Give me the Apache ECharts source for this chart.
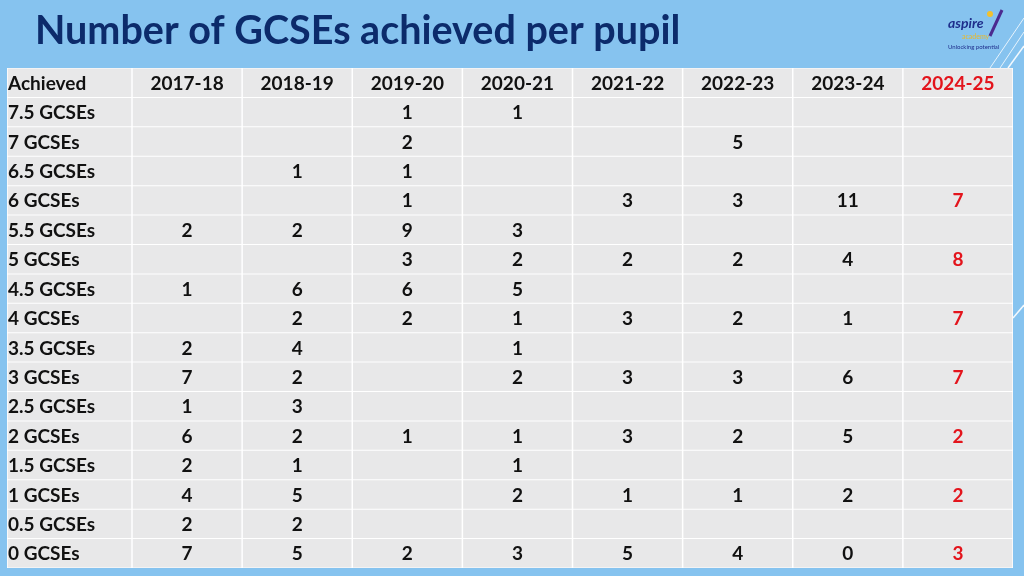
<!DOCTYPE html>
<html>
<head>
<meta charset="utf-8">
<script src="https://cdn.jsdelivr.net/npm/echarts@6/dist/echarts.min.js"></script>
<style>
  html, body { margin: 0; padding: 0; background: #86c3ef; }
  #chart { width: 1024px; height: 576px; }
</style>
</head>
<body>
<div id="chart"></div>
<script>
// 表格数据：行标签、学年、各学年人数（null 为空格）
const rowLabels = ['Achieved', '7.5 GCSEs', '7 GCSEs', '6.5 GCSEs', '6 GCSEs', '5.5 GCSEs', '5 GCSEs',
  '4.5 GCSEs', '4 GCSEs', '3.5 GCSEs', '3 GCSEs', '2.5 GCSEs', '2 GCSEs', '1.5 GCSEs', '1 GCSEs',
  '0.5 GCSEs', '0 GCSEs']
const years = ['2017-18', '2018-19', '2019-20', '2020-21', '2021-22', '2022-23', '2023-24', '2024-25']
const y2017 = [null, null, null, null, 2, null, 1, null, 2, 7, 1, 6, 2, 4, 2, 7]
const y2018 = [null, null, 1, null, 2, null, 6, 2, 4, 2, 3, 2, 1, 5, 2, 5]
const y2019 = [1, 2, 1, 1, 9, 3, 6, 2, null, null, null, 1, null, null, null, 2]
const y2020 = [1, null, null, null, 3, 2, 5, 1, 1, 2, null, 1, 1, 2, null, 3]
const y2021 = [null, null, null, 3, null, 2, null, 3, null, 3, null, 3, null, 1, null, 5]
const y2022 = [null, 5, null, 3, null, 2, null, 2, null, 3, null, 2, null, 1, null, 4]
const y2023 = [null, null, null, 11, null, 4, null, 1, null, 6, null, 5, null, 2, null, 0]
const y2024 = [null, null, null, 7, null, 8, null, 7, null, 7, null, 2, null, 2, null, 3]
const columns = [y2017, y2018, y2019, y2020, y2021, y2022, y2023, y2024]

const FONT = 'Lato, "Open Sans", sans-serif'
const CELL = '#e8e8e9'
const RED = '#e3141c'
const highlightCol = years.length - 1

// 数据区单元格：[列, 行, 文本]
const cellData = []
years.forEach((yr, ci) => {
  cellData.push([ci, 0, yr])
  columns[ci].forEach((v, ri) => {
    cellData.push([ci, ri + 1, v === null ? '' : String(v)])
  })
})
// 标签列
const labelData = rowLabels.map((t, ri) => [0, ri, t])

function cellItem(align) {
  return function (params, api) {
    const c = api.coord([api.value(0), api.value(1)])
    const s = api.size([1, 1])
    const x0 = c[0] - s[0] / 2
    const y0 = c[1] - s[1] / 2
    const txt = api.value(2)
    const red = align === 'center' && api.value(0) === highlightCol
    return {
      type: 'group',
      children: [
        {
          type: 'rect',
          shape: { x: x0 + 0.75, y: y0 + 0.5, width: s[0] - 1.5, height: s[1] - 1 },
          style: { fill: CELL }
        },
        {
          type: 'text',
          style: {
            text: txt,
            x: align === 'center' ? c[0] : x0 + 1,
            y: c[1] + 1,
            align: align,
            verticalAlign: 'middle',
            fill: red ? RED : '#111',
            fontSize: 19,
            fontWeight: 'bold',
            fontFamily: FONT
          }
        }
      ]
    }
  }
}

const chart = echarts.init(document.getElementById('chart'))
const yAxisBase = {
  type: 'category',
  data: rowLabels,
  inverse: true,
  show: false
}

chart.setOption({
  backgroundColor: '#86c3ef',
  animation: false,
  title: {
    text: 'Number of GCSEs achieved per pupil',
    left: 30,
    top: 6,
    textStyle: { color: '#0c2b6b', fontSize: 39.5, fontWeight: 'bold', fontFamily: FONT }
  },
  grid: [
    { left: 7, top: 68, width: 125, bottom: 8, show: true, backgroundColor: '#fff', borderWidth: 0 },
    { left: 132, top: 68, right: 11, bottom: 8, show: true, backgroundColor: '#fff', borderWidth: 0 }
  ],
  xAxis: [
    { type: 'category', data: ['Achieved'], gridIndex: 0, show: false },
    { type: 'category', data: years, gridIndex: 1, show: false }
  ],
  yAxis: [
    Object.assign({ gridIndex: 0 }, yAxisBase),
    Object.assign({ gridIndex: 1 }, yAxisBase)
  ],
  series: [
    {
      type: 'custom',
      xAxisIndex: 0,
      yAxisIndex: 0,
      renderItem: cellItem('left'),
      data: labelData
    },
    {
      type: 'custom',
      xAxisIndex: 1,
      yAxisIndex: 1,
      renderItem: cellItem('center'),
      data: cellData
    }
  ],
  graphic: [
    // 右上角装饰斜线
    { type: 'line', shape: { x1: 990, y1: 68, x2: 1024, y2: 18 }, style: { stroke: '#fff', lineWidth: 1, opacity: 0.8 } },
    { type: 'line', shape: { x1: 1000, y1: 68, x2: 1024, y2: 32 }, style: { stroke: '#fff', lineWidth: 1, opacity: 0.8 } },
    { type: 'line', shape: { x1: 1008, y1: 68, x2: 1024, y2: 46 }, style: { stroke: '#fff', lineWidth: 1.5, opacity: 0.9 } },
    { type: 'line', shape: { x1: 1013, y1: 318, x2: 1024, y2: 305 }, style: { stroke: '#fff', lineWidth: 1.5, opacity: 0.9 } },
    // 标志文字
    { type: 'text', left: 948, top: 16, style: { text: 'aspire', fill: '#1f2f8c', fontSize: 14, fontWeight: 'bold', fontStyle: 'italic', fontFamily: FONT } },
    { type: 'text', left: 962, top: 33, style: { text: 'academy', fill: '#e9b92a', fontSize: 7, fontFamily: FONT } },
    { type: 'text', left: 948, top: 44, style: { text: 'Unlocking potential', fill: '#1f2f8c', fontSize: 6, fontFamily: FONT } },
    { type: 'line', shape: { x1: 990, y1: 36, x2: 1002, y2: 10 }, style: { stroke: '#4b2a8f', lineWidth: 3 } },
    { type: 'circle', shape: { cx: 990, cy: 14, r: 3 }, style: { fill: '#f2c12e' } }
  ]
})
</script>
</body>
</html>
